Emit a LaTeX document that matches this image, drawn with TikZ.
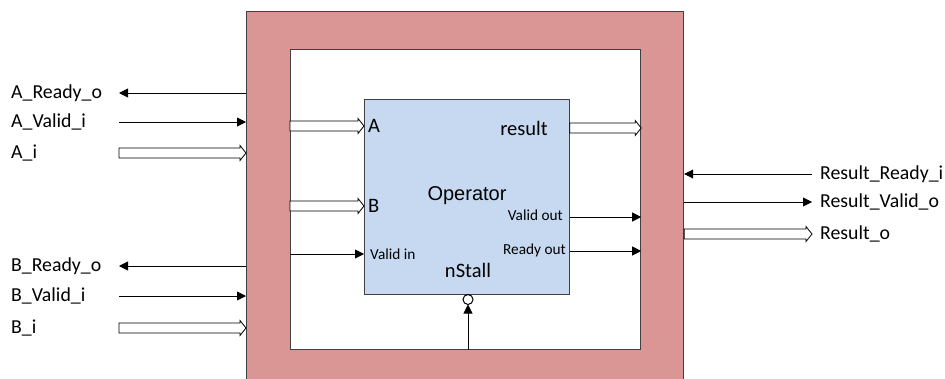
\documentclass[tikz,border=0pt]{standalone}
\usepackage{fontspec}
\setmainfont{Carlito}
\newfontfamily\opfont{Liberation Sans}
\usetikzlibrary{arrows.meta,positioning,calc}

\definecolor{wrapred}{HTML}{D99694}
\definecolor{opblue}{HTML}{C6D9F1}
\definecolor{edgegray}{HTML}{404040}

\tikzset{
  portlbl/.style={font=\fontsize{19.8}{22}\selectfont, inner sep=0pt},
  innerlbl/.style={font=\fontsize{20.5}{22}\selectfont, inner sep=0pt},
  pinlbl/.style={font=\fontsize{15.3}{17}\selectfont, inner sep=0pt},
  sig/.style={line width=0.9pt, -{Triangle[length=9pt,width=9pt]}},
  % hollow bus arrow, always drawn left to right
  bus/.style={line width=0.8pt, fill=white, to path={
      ($(\tikztostart)+(0,-5)$) -- ($(\tikztotarget)+(-6,-5)$)
      -- ($(\tikztotarget)+(-6,-7.5)$) -- (\tikztotarget)
      -- ($(\tikztotarget)+(-6,7.5)$) -- ($(\tikztotarget)+(-6,5)$)
      -- ($(\tikztostart)+(0,5)$) -- cycle}},
}

\begin{document}
\begin{tikzpicture}[x=1pt,y=-1pt]
    \useasboundingbox (0,0) rectangle (945,378);
    \clip (0,0) rectangle (945,378);

    % Wrapper (pink frame, runs off the bottom)
    \node[fill=wrapred, draw=edgegray, line width=1.2pt, anchor=north west,
          minimum width=437, minimum height=390, inner sep=0pt] (wrap) at (246,11) {};
    \node[fill=white, draw=edgegray, line width=1.2pt, anchor=north west,
          minimum width=350, minimum height=300, inner sep=0pt] (inner) at (290,49) {};

    % Operator block
    \node[fill=opblue, draw=edgegray, line width=0.8pt, anchor=north west,
          minimum width=205, minimum height=195, inner sep=0pt] (op) at (364,99) {};
    \node[font=\opfont\fontsize{20}{22}\selectfont] (opname) at (467,196) {Operator};
    \node[innerlbl, anchor=west] (pa) at (368,126) {A};
    \node[innerlbl, anchor=west] (pb) at (368,206) {B};
    \node[innerlbl] (pres) at (524,128) {result};
    \node[innerlbl] (pns) at (468,270) {nStall};
    \node[pinlbl, anchor=west] (pvin) at (370,254) {Valid in};
    \node[pinlbl, anchor=east] (pvout) at (563,215) {Valid out};
    \node[pinlbl, anchor=east] (prout) at (566,250) {Ready out};

    % Inside wiring
    \draw[bus] (inner.west |- pa) to (op.west |- pa);
    \draw[bus] (inner.west |- pb) to (op.west |- pb);
    \draw[sig] (inner.west |- pvin) -- (op.west |- pvin);
    \draw[bus] (op.east |- pres) to (inner.east |- pres);
    \draw[sig] (op.east |- 0,217) -- (inner.east |- 0,217);
    \draw[sig] (op.east |- 0,251) -- (inner.east |- 0,251);

    % nStall with inversion bubble
    \coordinate (nstip) at (468,304.5);
    \draw[sig] (inner.south -| nstip) -- (nstip);
    \draw[line width=1pt] (468,299.5) circle (5);

    % Left ports
    \node[portlbl, anchor=west] (ardy) at (11,93) {A\_Ready\_o};
    \node[portlbl, anchor=west] (avld) at (11,122) {A\_Valid\_i};
    \node[portlbl, anchor=west] (ain)  at (11,153) {A\_i};
    \node[portlbl, anchor=west] (brdy) at (11,266) {B\_Ready\_o};
    \node[portlbl, anchor=west] (bvld) at (11,296) {B\_Valid\_i};
    \node[portlbl, anchor=west] (bin)  at (11,328) {B\_i};
    \coordinate (lx) at (119,0);
    \draw[sig] (wrap.west |- ardy) -- (lx |- ardy);
    \draw[sig] (lx |- avld) -- (wrap.west |- avld);
    \draw[bus] (lx |- ain) to (wrap.west |- ain);
    \draw[sig] (wrap.west |- brdy) -- (lx |- brdy);
    \draw[sig] (lx |- bvld) -- (wrap.west |- bvld);
    \draw[bus] (lx |- bin) to (wrap.west |- bin);

    % Right ports
    \node[portlbl, anchor=west] (rrdy) at (820,174) {Result\_Ready\_i};
    \node[portlbl, anchor=west] (rvld) at (820,202) {Result\_Valid\_o};
    \node[portlbl, anchor=west] (rout) at (820,234) {Result\_o};
    \coordinate (rx) at (812,0);
    \draw[sig] (rx |- rrdy) -- (wrap.east |- rrdy);
    \draw[sig] (wrap.east |- rvld) -- (rx |- rvld);
    \draw[bus] (wrap.east |- rout) to (rx |- rout);
\end{tikzpicture}
\end{document}
